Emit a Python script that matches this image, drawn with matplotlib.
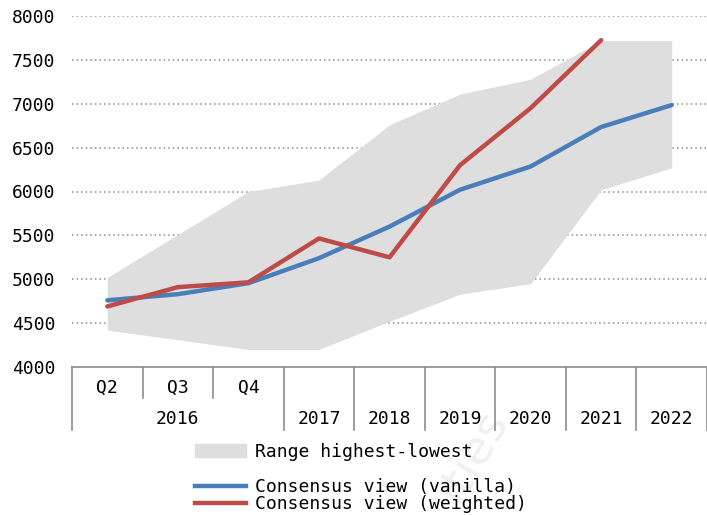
import matplotlib
matplotlib.use('Agg')
import matplotlib.pyplot as plt
from matplotlib.patches import Patch
from matplotlib.lines import Line2D
import numpy as np

# data
quarters    = ["Q2", "Q3", "Q4", "", "", "", "", "", ""]
years       = ["2016", "2017", "2018", "2019", "2020", "2021", "2022"]
range_high  = [5020, 5510, 6000, 6130, 6760, 7110, 7280, 7720, 7720]
range_low   = [4420, 4310, 4200, 4200, 4520, 4830, 4950, 6020, 6270]
vanilla     = [4760, 4830, 4955, 5240, 5600, 6020, 6285, 6735, 6985]
weighted    = [4690, 4910, 4965, 5465, 5250, 6300, 6950, 7725]

BLUE = '#4A7EBB'
RED  = '#BE4B48'
GREY = '#DEDEDE'
FONT = 'DejaVu Sans Mono'
FS   = 13

plt.rcParams['font.family'] = FONT

W, H = 707, 515
fig = plt.figure(figsize=(W / 100, H / 100), dpi=100)
ax = fig.add_axes([72 / W, 1 - 367 / H, (707 - 72) / W, (367 - 16) / H])

# faint watermark, behind everything
fig.text(472 / W, 1 - 455 / H, "ities", rotation=60, fontsize=34, color='#f0f0f0',
         ha='center', va='center', zorder=-1, family='DejaVu Sans')
ax.patch.set_alpha(0)

x = np.arange(len(vanilla))
ax.fill_between(x, range_low, range_high, color=GREY, lw=0, zorder=1)
ax.plot(x, vanilla, color=BLUE, lw=3.2, solid_capstyle='round', zorder=3)
ax.plot(np.arange(len(weighted)), weighted, color=RED, lw=3.2, solid_capstyle='round', zorder=4)

ax.set_xlim(-0.5, len(vanilla) - 0.5)
ax.set_ylim(4000, 8000)
ax.set_yticks(np.arange(4000, 8001, 500))
ax.tick_params(axis='y', length=0, pad=12, labelsize=FS)
ax.set_xticks([])
for g in np.arange(4500, 8001, 500):
    ax.axhline(g, color='#8c8c8c', lw=1.1, ls=(0, (1, 2)), zorder=0.5)

for s in ['left', 'right', 'top']:
    ax.spines[s].set_visible(False)
ax.spines['bottom'].set_color('#8c8c8c')
ax.spines['bottom'].set_linewidth(1.2)

# category table below the axis
tr = ax.get_xaxis_transform()
full_bot = -63 / 351
short_bot = -31 / 351
n = len(vanilla)
for i in range(n + 1):
    b = i - 0.5
    bot = short_bot if i in (1, 2) else full_bot
    ax.plot([b, b], [0, bot], transform=tr, color='#8c8c8c', lw=1.2, clip_on=False)

for i, q in enumerate(quarters):
    if q:
        ax.text(i, -21 / 351, q, transform=tr, ha='center', va='center', fontsize=FS)
ax.text(1, -52 / 351, years[0], transform=tr, ha='center', va='center', fontsize=FS)
for i, y in enumerate(years[1:]):
    ax.text(i + 3, -52 / 351, y, transform=tr, ha='center', va='center', fontsize=FS)

# legends
leg1 = fig.legend(handles=[Patch(color=GREY, label="Range highest-lowest")],
                  loc='upper left', bbox_to_anchor=(195 / W, 1 - 443 / H),
                  frameon=False, fontsize=FS, borderpad=0, borderaxespad=0,
                  handlelength=2.8, handleheight=0.7, handletextpad=0.55)
leg2 = fig.legend(handles=[Line2D([], [], color=BLUE, lw=3.2, label="Consensus view (vanilla)"),
                           Line2D([], [], color=RED, lw=3.2, label="Consensus view (weighted)")],
                  loc='upper left', bbox_to_anchor=(195 / W, 1 - 478 / H),
                  frameon=False, fontsize=FS, borderpad=0, borderaxespad=0,
                  handlelength=2.8, handletextpad=0.55, labelspacing=-0.05)

fig.savefig('out.png', dpi=100)
